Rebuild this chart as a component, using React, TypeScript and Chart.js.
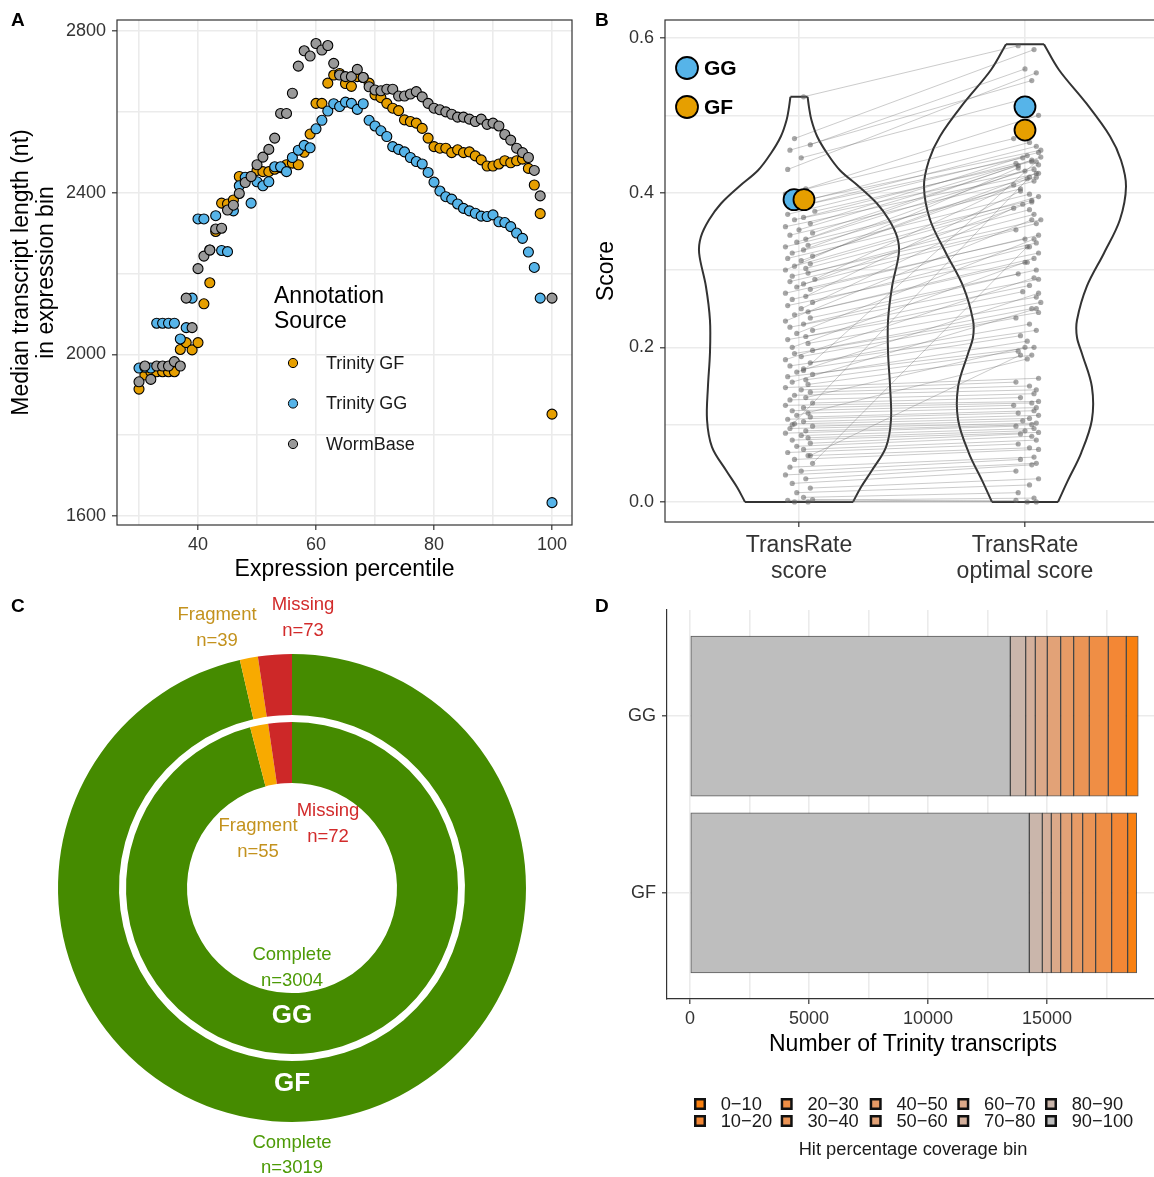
import React, { useEffect, useRef } from 'react';
import { Chart, registerables } from 'chart.js';

Chart.register(...registerables);

const FONT = "'Liberation Sans', Arial, Helvetica, sans-serif";
Chart.defaults.font.family = FONT;
const GRID = '#EBEBEB';
const AXIS = '#333333';
const TICK_TEXT = '#333333';
const NONE = 'rgba(0,0,0,0)';

// ---------------- Panel A data ----------------
const percentiles = [
  30, 31, 32, 33, 34, 35, 36, 37, 38, 39,
  40, 41, 42, 43, 44, 45, 46, 47, 48, 49,
  50, 51, 52, 53, 54, 55, 56, 57, 58, 59,
  60, 61, 62, 63, 64, 65, 66, 67, 68, 69,
  70, 71, 72, 73, 74, 75, 76, 77, 78, 79,
  80, 81, 82, 83, 84, 85, 86, 87, 88, 89,
  90, 91, 92, 93, 94, 95, 96, 97, 98, 100,
];
const lengthTrinityGF = [
  1914, 1949, 1957, 1957, 1957, 1957, 1957, 2012, 2029, 2011,
  2029, 2125, 2177, 2304, 2374, 2372, 2382, 2440, 2430, 2440,
  2455, 2452, 2452, 2458, 2462, 2469, 2473, 2469, 2500, 2545,
  2621, 2621, 2671, 2691, 2695, 2670, 2663, 2687, 2685, 2671,
  2642, 2635, 2621, 2609, 2603, 2580, 2576, 2572, 2559, 2535,
  2514, 2510, 2510, 2499, 2506, 2499, 2501, 2491, 2481, 2466,
  2466, 2471, 2479, 2474, 2479, 2483, 2460, 2419, 2348, 1852,
];
const lengthTrinityGG = [
  1966, 1968, 1966, 2077, 2077, 2077, 2077, 2038, 2066, 2139,
  2335, 2335, 2258, 2343, 2257, 2254, 2355, 2417, 2438, 2374,
  2427, 2417, 2427, 2464, 2464, 2452, 2487, 2505, 2517, 2511,
  2558, 2579, 2602, 2620, 2613, 2624, 2621, 2606, 2620, 2579,
  2565, 2553, 2539, 2514, 2507, 2501, 2487, 2477, 2471, 2450,
  2426, 2404, 2390, 2384, 2372, 2361, 2355, 2349, 2342, 2341,
  2345, 2328, 2326, 2316, 2300, 2287, 2253, 2215, 2139, 1633,
];
const lengthWormBase = [
  1932, 1971, 1938, 1971, 1971, 1971, 1982, 1971, 2139, 2066,
  2212, 2243, 2258, 2310, 2312, 2357, 2369, 2398, 2425, 2440,
  2469, 2488, 2507, 2535, 2596, 2596, 2646, 2713, 2751, 2738,
  2769, 2753, 2764, 2720, 2691, 2687, 2687, 2705, 2685, 2662,
  2654, 2652, 2656, 2656, 2639, 2639, 2644, 2650, 2637, 2621,
  2609, 2605, 2600, 2594, 2587, 2587, 2582, 2576, 2582, 2569,
  2572, 2565, 2544, 2530, 2510, 2499, 2487, 2455, 2392, 2139,
];
const seriesA = [
  { label: 'Trinity GF', values: lengthTrinityGF, color: '#E69F00' },
  { label: 'Trinity GG', values: lengthTrinityGG, color: '#56B4E9' },
  { label: 'WormBase', values: lengthWormBase, color: '#999999' },
];

// ---------------- Panel B data ----------------
// [TransRate score, TransRate optimal score, jitter left, jitter right]
const scorePairs: number[][] = [
  [0.524, 0.590, 0.02, -0.03], [0.470, 0.585, -0.02, 0.04], [0.462, 0.560, 0.05, 0.00],
  [0.455, 0.545, -0.04, 0.03], [0.445, 0.520, 0.01, -0.02], [0.430, 0.555, -0.05, 0.05],
  [0.405, 0.500, 0.03, 0.06], [0.398, 0.470, -0.06, -0.05], [0.392, 0.465, 0.06, 0.02],
  [0.388, 0.455, -0.01, 0.07], [0.385, 0.445, 0.04, -0.01], [0.380, 0.460, -0.03, 0.05],
  [0.376, 0.440, 0.07, 0.03], [0.372, 0.452, -0.05, 0.06], [0.368, 0.438, 0.02, -0.04],
  [0.365, 0.430, -0.02, 0.04], [0.360, 0.448, 0.05, 0.01], [0.356, 0.425, -0.06, 0.06],
  [0.352, 0.442, 0.00, 0.03], [0.348, 0.435, 0.06, -0.03], [0.345, 0.420, -0.04, 0.05],
  [0.340, 0.446, 0.03, 0.07], [0.336, 0.428, -0.01, 0.00], [0.332, 0.415, 0.04, 0.04],
  [0.330, 0.405, -0.06, -0.02], [0.326, 0.436, 0.02, 0.06], [0.322, 0.398, -0.03, 0.02],
  [0.318, 0.410, 0.06, -0.05], [0.315, 0.390, -0.05, 0.03], [0.312, 0.425, 0.01, 0.05],
  [0.308, 0.385, 0.05, -0.01], [0.305, 0.395, -0.02, 0.06], [0.302, 0.378, 0.03, 0.02],
  [0.300, 0.432, -0.06, -0.03], [0.296, 0.372, 0.04, 0.04], [0.292, 0.365, -0.03, 0.07],
  [0.288, 0.418, 0.07, 0.01], [0.285, 0.360, -0.04, 0.05], [0.282, 0.352, 0.02, -0.04],
  [0.278, 0.388, -0.01, 0.03], [0.275, 0.345, 0.05, 0.06], [0.270, 0.340, -0.06, 0.00],
  [0.266, 0.402, 0.03, -0.02], [0.262, 0.335, -0.03, 0.05], [0.258, 0.330, 0.06, 0.02],
  [0.254, 0.322, -0.05, 0.06], [0.250, 0.380, 0.01, -0.05], [0.246, 0.315, 0.04, 0.04],
  [0.242, 0.310, -0.02, 0.01], [0.238, 0.300, 0.05, 0.05], [0.234, 0.365, -0.06, 0.03],
  [0.230, 0.295, 0.02, -0.03], [0.226, 0.288, -0.04, 0.06], [0.222, 0.280, 0.06, 0.02],
  [0.218, 0.340, -0.01, 0.04], [0.214, 0.272, 0.03, -0.01], [0.210, 0.265, -0.05, 0.05],
  [0.205, 0.258, 0.04, 0.07], [0.200, 0.310, -0.03, 0.00], [0.196, 0.250, 0.06, 0.03],
  [0.192, 0.245, -0.02, 0.06], [0.188, 0.238, 0.01, -0.04], [0.184, 0.290, -0.06, 0.04],
  [0.180, 0.230, 0.05, 0.02], [0.176, 0.222, -0.04, 0.05], [0.172, 0.215, 0.02, -0.02],
  [0.168, 0.270, -0.01, 0.06], [0.165, 0.208, 0.06, 0.01], [0.162, 0.200, -0.05, 0.04],
  [0.158, 0.195, 0.03, -0.03], [0.155, 0.250, -0.03, 0.05], [0.152, 0.190, 0.04, 0.03],
  [0.148, 0.160, -0.06, 0.06], [0.145, 0.155, 0.01, -0.04], [0.142, 0.150, 0.05, 0.02],
  [0.138, 0.145, -0.02, 0.05], [0.135, 0.200, 0.03, 0.00], [0.132, 0.140, -0.04, 0.04],
  [0.128, 0.135, 0.06, -0.02], [0.125, 0.130, -0.06, 0.06], [0.122, 0.128, 0.02, 0.03],
  [0.118, 0.125, -0.03, -0.05], [0.115, 0.122, 0.04, 0.05], [0.112, 0.185, -0.01, 0.01],
  [0.110, 0.118, 0.05, 0.04], [0.107, 0.115, -0.05, -0.03], [0.104, 0.112, 0.02, 0.06],
  [0.101, 0.108, -0.02, 0.02], [0.098, 0.105, 0.06, -0.01], [0.095, 0.102, -0.04, 0.05],
  [0.092, 0.100, 0.03, 0.03], [0.089, 0.098, -0.06, -0.04], [0.086, 0.095, 0.01, 0.04],
  [0.083, 0.092, 0.04, 0.00], [0.080, 0.090, -0.03, 0.06], [0.076, 0.088, 0.05, -0.02],
  [0.072, 0.085, -0.01, 0.03], [0.068, 0.080, 0.02, 0.05], [0.064, 0.075, -0.05, -0.03],
  [0.060, 0.070, 0.04, 0.02], [0.055, 0.068, -0.02, 0.06], [0.050, 0.330, 0.06, 0.01],
  [0.045, 0.058, -0.04, 0.04], [0.040, 0.055, 0.01, -0.02], [0.035, 0.050, -0.06, 0.05],
  [0.030, 0.048, 0.03, 0.03], [0.024, 0.040, -0.03, -0.04], [0.018, 0.030, 0.05, 0.06],
  [0.012, 0.022, -0.01, 0.02], [0.006, 0.012, 0.02, -0.03], [0.002, 0.005, -0.05, 0.04],
  [0.000, 0.000, 0.04, 0.01], [0.000, 0.002, -0.02, -0.04], [0.003, 0.000, 0.06, 0.05],
  [0.100, 0.420, -0.03, 0.02], [0.170, 0.440, 0.02, 0.05], [0.060, 0.190, 0.05, -0.02],
];
// violin outlines: score level and half width (in category units)
const violinScoreY = [0.000, 0.019, 0.041, 0.071, 0.106, 0.149, 0.193, 0.235, 0.279, 0.322, 0.343, 0.365, 0.386, 0.408, 0.429, 0.451, 0.473, 0.494, 0.511, 0.524];
const violinScoreHalfWidth = [0.239, 0.274, 0.323, 0.385, 0.407, 0.403, 0.394, 0.394, 0.412, 0.442, 0.434, 0.398, 0.345, 0.265, 0.181, 0.124, 0.080, 0.055, 0.044, 0.038];
const violinOptimalY = [0.000, 0.028, 0.063, 0.106, 0.149, 0.192, 0.213, 0.235, 0.279, 0.322, 0.365, 0.408, 0.442, 0.473, 0.516, 0.559, 0.592];
const violinOptimalHalfWidth = [0.146, 0.190, 0.248, 0.296, 0.296, 0.252, 0.230, 0.230, 0.274, 0.350, 0.420, 0.447, 0.425, 0.376, 0.270, 0.150, 0.084];
const assemblyLabels = ['GG', 'GF'];
const assemblyColors = ['#56B4E9', '#E69F00'];
const assemblyScore = [0.391, 0.391];
const assemblyOptimal = [0.511, 0.481];
const assemblyDodge = [-0.022, 0.022];
const scoreCategories = [['TransRate', 'score'], ['TransRate', 'optimal score']];

// ---------------- Panel C data ----------------
const buscoCategories = ['Complete', 'Fragment', 'Missing'];
const buscoGF = [3019, 39, 73];
const buscoGG = [3004, 55, 72];
const buscoColors = ['#458B00', '#F8AA00', '#CD2828'];
const buscoTextColors = ['#4C9A06', '#C3921E', '#D22B2B'];

// ---------------- Panel D data ----------------
const coverageBins = ['0−10', '10−20', '20−30', '30−40', '40−50', '50−60', '60−70', '70−80', '80−90', '90−100'];
const coverageGG = [504, 756, 798, 655, 546, 563, 504, 403, 647, 13458];
const coverageGF = [378, 672, 672, 546, 462, 462, 395, 378, 546, 14256];
const coverageColors = ['#F98010', '#F38735', '#EF8E45', '#EB9455', '#E79B66', '#E2A277', '#DCA989', '#D4B09C', '#CAB6AB', '#BEBEBE'];
const assemblyRows = ['GG', 'GF'];

// ---------------- plugins ----------------
const framePlugin = {
  id: 'frame',
  afterDraw(chart: any) {
    const { ctx, chartArea: a } = chart;
    ctx.save();
    ctx.strokeStyle = AXIS;
    ctx.lineWidth = 1.2;
    ctx.strokeRect(a.left, a.top, a.right - a.left, a.bottom - a.top);
    ctx.restore();
  },
};

const legendAPlugin = {
  id: 'legendA',
  afterDraw(chart: any) {
    const ctx = chart.ctx;
    ctx.save();
    ctx.textAlign = 'left';
    ctx.textBaseline = 'middle';
    ctx.fillStyle = '#000';
    ctx.font = `23px ${FONT}`;
    ctx.fillText('Annotation', 274, 297);
    ctx.fillText('Source', 274, 322);
    ctx.font = `18px ${FONT}`;
    seriesA.forEach((s, i) => {
      const y = 363 + i * 40.5;
      ctx.beginPath();
      ctx.arc(293, y, 4.6, 0, Math.PI * 2);
      ctx.fillStyle = s.color;
      ctx.fill();
      ctx.lineWidth = 1;
      ctx.strokeStyle = '#000';
      ctx.stroke();
      ctx.fillStyle = '#1a1a1a';
      ctx.fillText(s.label, 326, y + 1);
    });
    ctx.restore();
  },
};

const legendBPlugin = {
  id: 'legendB',
  afterDraw(chart: any) {
    const ctx = chart.ctx;
    ctx.save();
    ctx.textAlign = 'left';
    ctx.textBaseline = 'middle';
    ctx.font = `bold 21px ${FONT}`;
    assemblyLabels.forEach((lab, i) => {
      const y = 68 + i * 39;
      ctx.beginPath();
      ctx.arc(107, y, 11, 0, Math.PI * 2);
      ctx.fillStyle = assemblyColors[i];
      ctx.fill();
      ctx.lineWidth = 1.8;
      ctx.strokeStyle = '#000';
      ctx.stroke();
      ctx.fillStyle = '#000';
      ctx.fillText(lab, 124, y + 1);
    });
    ctx.restore();
  },
};

const donutLabelsPlugin = {
  id: 'donutLabels',
  afterDraw(chart: any) {
    const ctx = chart.ctx;
    ctx.save();
    ctx.textAlign = 'center';
    ctx.textBaseline = 'middle';
    ctx.font = `18.5px ${FONT}`;
    const put = (t: string, x: number, y: number, c: string) => { ctx.fillStyle = c; ctx.fillText(t, x, y); };
    // outer ring (GF)
    put(buscoCategories[1], 217, 25, buscoTextColors[1]);
    put('n=' + buscoGF[1], 217, 51, buscoTextColors[1]);
    put(buscoCategories[2], 303, 15, buscoTextColors[2]);
    put('n=' + buscoGF[2], 303, 41, buscoTextColors[2]);
    put(buscoCategories[0], 292, 553, buscoTextColors[0]);
    put('n=' + buscoGF[0], 292, 578, buscoTextColors[0]);
    // inner ring (GG)
    put(buscoCategories[1], 258, 236, buscoTextColors[1]);
    put('n=' + buscoGG[1], 258, 262, buscoTextColors[1]);
    put(buscoCategories[2], 328, 221, buscoTextColors[2]);
    put('n=' + buscoGG[2], 328, 247, buscoTextColors[2]);
    put(buscoCategories[0], 292, 365, buscoTextColors[0]);
    put('n=' + buscoGG[0], 292, 391, buscoTextColors[0]);
    ctx.font = `bold 26px ${FONT}`;
    put('GG', 292, 426, '#FFFFFF');
    put('GF', 292, 494, '#FFFFFF');
    ctx.restore();
  },
};

const legendDPlugin = {
  id: 'legendD',
  afterDraw(chart: any) {
    const ctx = chart.ctx;
    ctx.save();
    ctx.textAlign = 'left';
    ctx.textBaseline = 'middle';
    ctx.font = `18.3px ${FONT}`;
    const keyX = [120, 206.7, 295.7, 383.3, 471];
    const rowY = [514, 531];
    coverageBins.forEach((lab, i) => {
      const c = Math.floor(i / 2);
      const r = i % 2;
      const x = keyX[c];
      const y = rowY[r];
      ctx.fillStyle = '#111';
      ctx.fillRect(x - 6, y - 6, 12, 12);
      ctx.fillStyle = coverageColors[i];
      ctx.fillRect(x - 3.5, y - 3.5, 7, 7);
      ctx.fillStyle = '#1a1a1a';
      ctx.fillText(lab, x + 20.7, y + 1);
    });
    ctx.textAlign = 'center';
    ctx.fillText('Hit percentage coverage bin', 333, 560);
    ctx.restore();
  },
};

// ---------------- chart configs ----------------
const tickColorIf = (pred: (v: number) => boolean) => (c: any) =>
  c && c.tick && pred(c.tick.value) ? AXIS : NONE;
const TITLE_FONT = { size: 23, lineHeight: 1.05 };
const TICK_FONT = { size: 18, lineHeight: 1.2 };
const fitX = (h: number) => (s: any) => { s.height = h; s.paddingLeft = 0; s.paddingRight = 0; };
const fitY = (w: number) => (s: any) => { s.width = w; s.paddingTop = 0; s.paddingBottom = 0; };

function configA(): any {
  return {
    type: 'scatter',
    data: {
      datasets: seriesA.map((s, k) => ({
        label: s.label,
        data: percentiles.map((p, i) => ({ x: p, y: s.values[i] })),
        backgroundColor: s.color,
        borderColor: '#000',
        borderWidth: 1.1,
        pointRadius: 5,
        order: 3 - k,
      })),
    },
    options: {
      animation: false,
      responsive: false,
      layout: { autoPadding: false, padding: { top: 20, right: 8, left: 0, bottom: 0 } },
      plugins: { legend: { display: false }, tooltip: { enabled: false } },
      scales: {
        x: {
          type: 'linear', min: 26.27, max: 103.39,
          afterFit: fitX(65),
          border: { display: false },
          grid: { color: GRID, lineWidth: 1.6, tickLength: 5, tickWidth: 1.2, tickColor: tickColorIf((v) => v % 20 === 0) },
          ticks: { stepSize: 10, includeBounds: false, autoSkip: false, maxRotation: 0, padding: 4, color: TICK_TEXT, font: TICK_FONT, callback: (v: number) => (v % 20 === 0 ? String(v) : '') },
          title: { display: true, text: 'Expression percentile', color: '#000', font: TITLE_FONT, padding: { top: 0, bottom: 8 } },
        },
        y: {
          type: 'linear', min: 1577.7, max: 2827.2,
          afterFit: fitY(117),
          border: { display: false },
          grid: { color: GRID, lineWidth: 1.6, tickLength: 5, tickWidth: 1.2, tickColor: tickColorIf((v) => v % 400 === 0) },
          ticks: { stepSize: 200, includeBounds: false, autoSkip: false, padding: 6, color: TICK_TEXT, font: TICK_FONT, callback: (v: number) => (v % 400 === 0 ? String(v) : '') },
          title: { display: true, text: ['Median transcript length (nt)', 'in expression bin'], color: '#000', font: TITLE_FONT, padding: { top: 10, bottom: 0 } },
        },
      },
    },
    plugins: [framePlugin, legendAPlugin],
  };
}

function violinDatasets(center: number, ys: number[], hws: number[]): any[] {
  const right = ys.map((y, i) => ({ x: center + hws[i], y }));
  const left = ys.map((y, i) => ({ x: center - hws[i], y }));
  const n = ys.length - 1;
  const flats = [
    { x: center - hws[0], y: ys[0] }, { x: center + hws[0], y: ys[0] }, { x: center, y: null },
    { x: center - hws[n], y: ys[n] }, { x: center + hws[n], y: ys[n] },
  ];
  const base = { showLine: true, pointRadius: 0, borderColor: '#333', borderWidth: 2, backgroundColor: NONE, fill: false, order: 20 };
  return [
    { ...base, label: 'violin', data: right, tension: 0.35 },
    { ...base, label: 'violin', data: left, tension: 0.35 },
    { ...base, label: 'violin', data: flats, tension: 0, spanGaps: false },
  ];
}

function configB(): any {
  const pairData: any[] = [];
  scorePairs.forEach(([l, r, jl, jr]) => {
    pairData.push({ x: 1 + jl, y: l }, { x: 2 + jr, y: r }, { x: 1.5, y: null });
  });
  const bigPoints = assemblyLabels.map((lab, i) => ({
    label: lab,
    data: [{ x: 1 + assemblyDodge[i], y: assemblyScore[i] }, { x: 2, y: assemblyOptimal[i] }],
    backgroundColor: assemblyColors[i],
    borderColor: '#000',
    borderWidth: 1.8,
    pointRadius: 10.5,
    order: 1 - i,
  }));
  return {
    type: 'scatter',
    data: {
      datasets: [
        ...bigPoints,
        {
          label: 'pairs', data: pairData, showLine: true, spanGaps: false,
          borderColor: 'rgba(95,95,95,0.55)', borderWidth: 0.6,
          pointRadius: 2.6, pointBackgroundColor: 'rgba(95,95,95,0.55)', pointBorderWidth: 0,
          order: 5,
        },
        ...violinDatasets(1, violinScoreY, violinScoreHalfWidth),
        ...violinDatasets(2, violinOptimalY, violinOptimalHalfWidth),
      ],
    },
    options: {
      animation: false,
      responsive: false,
      layout: { autoPadding: false, padding: { top: 20, right: 4, left: 0, bottom: 0 } },
      plugins: { legend: { display: false }, tooltip: { enabled: false } },
      scales: {
        x: {
          type: 'linear', min: 0.407, max: 2.593,
          afterFit: fitX(68),
          afterBuildTicks: (s: any) => { s.ticks = [{ value: 1 }, { value: 2 }]; },
          border: { display: false },
          grid: { color: GRID, lineWidth: 1.6, tickLength: 5, tickWidth: 1.2, tickColor: AXIS },
          ticks: { autoSkip: false, maxRotation: 0, padding: 6, color: TICK_TEXT, font: { size: 23, lineHeight: 1.13 }, callback: (v: number) => scoreCategories[Math.round(v) - 1] },
        },
        y: {
          type: 'linear', min: -0.0259, max: 0.6233,
          afterFit: fitY(85),
          border: { display: false },
          grid: { color: GRID, lineWidth: 1.6, tickLength: 5, tickWidth: 1.2, tickColor: tickColorIf((v) => Math.round(v * 10) % 2 === 0) },
          ticks: { stepSize: 0.1, includeBounds: false, autoSkip: false, padding: 6, color: TICK_TEXT, font: TICK_FONT, callback: (v: number) => { const k = Math.round(v * 10); return k % 2 === 0 ? (k / 10).toFixed(1) : ''; } },
          title: { display: true, text: 'Score', color: '#000', font: TITLE_FONT, padding: { top: 15, bottom: 0 } },
        },
      },
    },
    plugins: [framePlugin, legendBPlugin],
  };
}

function configC(): any {
  return {
    type: 'doughnut',
    data: {
      labels: buscoCategories,
      datasets: [
        { label: 'GF', data: buscoGF, backgroundColor: buscoColors, borderWidth: 0, weight: 61 },
        { label: 'gap', data: [1], backgroundColor: [NONE], borderWidth: 0, weight: 7 },
        { label: 'GG', data: buscoGG, backgroundColor: buscoColors, borderWidth: 0, weight: 61 },
      ],
    },
    options: {
      animation: false,
      responsive: false,
      cutout: 105,
      layout: { autoPadding: false, padding: { left: 58, right: 54, top: 64, bottom: 55 } },
      plugins: { legend: { display: false }, tooltip: { enabled: false } },
    },
    plugins: [donutLabelsPlugin],
  };
}

function configD(): any {
  const order = coverageBins.map((_, i) => coverageBins.length - 1 - i);
  return {
    type: 'bar',
    data: {
      datasets: order.map((i) => ({
        label: coverageBins[i],
        data: [{ x: coverageGG[i], y: 1 }, { x: coverageGF[i], y: 2 }],
        backgroundColor: coverageColors[i],
        borderColor: 'rgba(20,20,20,0.7)',
        borderWidth: 1,
        borderSkipped: false,
        barThickness: 160,
      })),
    },
    options: {
      animation: false,
      responsive: false,
      indexAxis: 'y',
      layout: { autoPadding: false, padding: { top: 20, right: 4, left: 0, bottom: 118 } },
      plugins: { legend: { display: false }, tooltip: { enabled: false } },
      scales: {
        x: {
          type: 'linear', stacked: true, min: -966, max: 19706, offset: false,
          afterFit: fitX(60),
          afterBuildTicks: (s: any) => {
            const t: any[] = [];
            for (let v = 0; v <= s.max; v += 2500) t.push({ value: v });
            s.ticks = t;
          },
          border: { display: true, color: AXIS, width: 1.2 },
          grid: { offset: false, color: GRID, lineWidth: 1.6, tickLength: 5, tickWidth: 1.2, tickColor: tickColorIf((v) => v % 5000 === 0) },
          ticks: { autoSkip: false, maxRotation: 0, padding: 4, color: TICK_TEXT, font: TICK_FONT, callback: (v: number) => (v % 5000 === 0 ? String(v) : '') },
          title: { display: true, text: 'Number of Trinity transcripts', color: '#000', font: TITLE_FONT, padding: { top: 0, bottom: 2 } },
        },
        y: {
          type: 'linear', stacked: true, reverse: true, min: 0.4, max: 2.6, offset: false,
          afterFit: fitY(87),
          afterBuildTicks: (s: any) => { s.ticks = [{ value: 1 }, { value: 2 }]; },
          border: { display: true, color: AXIS, width: 1.2 },
          grid: { offset: false, color: GRID, lineWidth: 1.6, tickLength: 5, tickWidth: 1.2, tickColor: AXIS },
          ticks: { autoSkip: false, padding: 6, color: TICK_TEXT, font: TICK_FONT, callback: (v: number) => assemblyRows[Math.round(v) - 1] },
        },
      },
    },
    plugins: [legendDPlugin],
  };
}

function ChartCanvas({ make, left, top, width, height }: any) {
  const ref = useRef<HTMLCanvasElement | null>(null);
  useEffect(() => {
    if (!ref.current) return;
    const chart = new Chart(ref.current, make());
    return () => chart.destroy();
  }, []);
  return <canvas ref={ref} width={width} height={height} style={{ position: 'absolute', left, top, width, height }} />;
}

const letterStyle = (left: number, top: number): React.CSSProperties => ({
  position: 'absolute', left, top, fontFamily: FONT, fontWeight: 'bold', fontSize: 19, lineHeight: '22px', color: '#000',
});

export default function App() {
  return (
    <div style={{ position: 'absolute', left: 0, top: 0, width: 1154, height: 1177, overflow: 'hidden', background: '#fff' }}>
      <ChartCanvas make={configA} left={0} top={0} width={580} height={590} />
      <ChartCanvas make={configB} left={580} top={0} width={583} height={590} />
      <ChartCanvas make={configC} left={0} top={590} width={580} height={587} />
      <ChartCanvas make={configD} left={580} top={590} width={583} height={587} />
      <div style={letterStyle(11, 9)}>A</div>
      <div style={letterStyle(595, 9)}>B</div>
      <div style={letterStyle(11, 595)}>C</div>
      <div style={letterStyle(595, 595)}>D</div>
    </div>
  );
}
